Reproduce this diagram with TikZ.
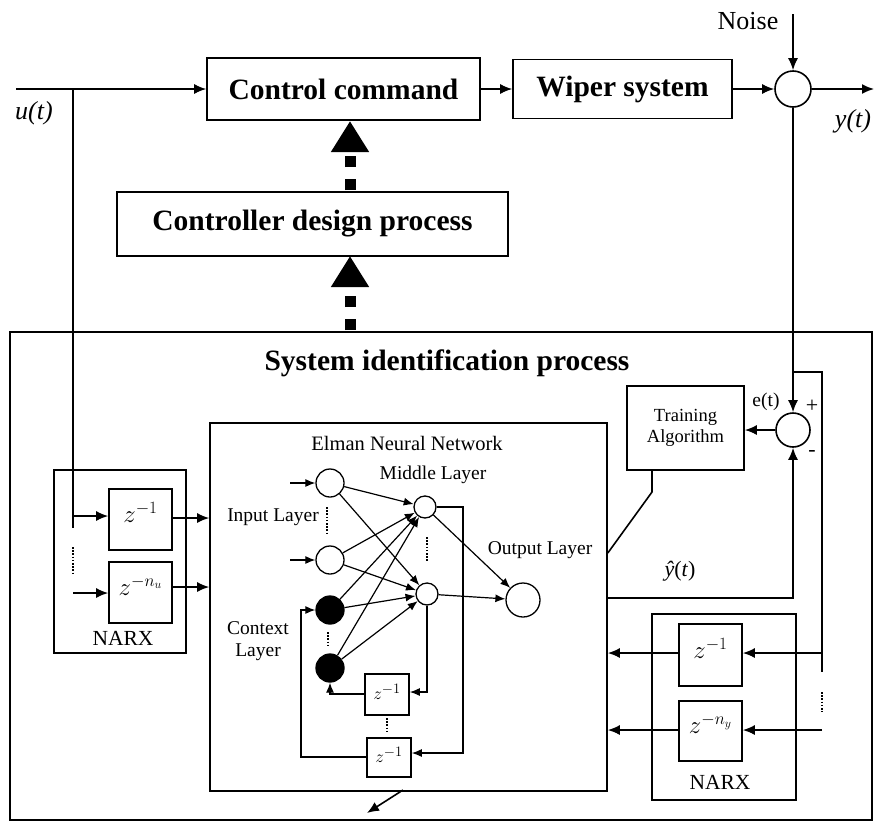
\documentclass[tikz,border=0pt]{standalone}
\usepackage{fontspec}
\setmainfont{Liberation Serif}
\usepackage{amsmath}
\usepackage{tikz}
\usetikzlibrary{arrows.meta,positioning,calc}
\tikzset{
  sys/block/.style={draw, line width=1.6pt, align=center, inner sep=2pt, font=\fontsize{29.5}{32}\selectfont\bfseries},
  sys/box/.style={draw, line width=1.6pt, inner sep=0pt},
  sys/delay/.style={draw, line width=1.6pt, inner sep=0pt, text depth=14pt, font=\fontsize{24}{26}\selectfont},
  sys/sum/.style={draw, circle, line width=1.6pt, inner sep=0pt},
  sys/neuron/.style={draw, circle, line width=1.3pt, inner sep=0pt},
  sys/context/.style={sys/neuron, fill=black},
  sys/line/.style={line width=1.6pt},
  sys/arr/.style={line width=1.6pt, -{Latex[length=12pt,width=10pt]}},
  sys/thinarr/.style={line width=1.2pt, -{Latex[length=10pt,width=8pt]}},
  sys/dots/.style={line width=2.4pt, dash pattern=on 1.6pt off 1.6pt},
  sys/bigarr/.style={line width=11pt, dash pattern=on 0pt off 2pt on 11pt off 12pt on 11pt off 12pt,
    -{Triangle[length=31pt,width=36pt]}},
  sys/label/.style={inner sep=1pt, font=\fontsize{19.5}{22}\selectfont},
  sys/sig/.style={inner sep=1pt, font=\fontsize{26}{28}\selectfont\itshape}
}
\begin{document}
\begin{tikzpicture}[x=1pt, y=-1pt]
  \useasboundingbox (0,0) rectangle (874,822);

  % top loop
  \node[sys/block, minimum width=273, minimum height=62] (ctrl) at (343.5,89) {Control command};
  \node[sys/block, minimum width=219, minimum height=59] (wiper) at (622.5,89) {Wiper system};
  \node[sys/sum, minimum size=36] (sum) at (793,89) {};
  \node[sys/label, font=\fontsize{26}{28}\selectfont] (noise) at (748,21) {Noise};
  \node[sys/sig] (ulbl) at (34,113) {u(t)};
  \node[sys/sig] (ylbl) at (853,121) {y(t)};
  \coordinate (uin) at (16,89);
  \coordinate (ub) at (73,89);
  \coordinate (nz) at (793,14);
  \coordinate (yout) at (874,89);
  \node[sys/block, minimum width=391, minimum height=64] (design) at (312.5,224) {Controller design process};

  % identification
  \node[sys/box, minimum width=862, minimum height=488] (ident) at (441,576) {};
  \node[sys/block, draw=none] (identlbl) at (447,363) {System identification process};
  \node[sys/box, minimum width=117, minimum height=84, font=\fontsize{18.5}{21}\selectfont, align=center] (train) at (685.5,428) {Training\\Algorithm};
  \node[sys/sum, minimum size=34] (err) at (793,430) {};
  \node[sys/label, font=\fontsize{22}{24}\selectfont] (plus) at (812,406) {+};
  \node[sys/label, font=\fontsize{22}{24}\selectfont] (minus) at (812,453) {-};
  \node[sys/label] (elbl) at (766,402) {e(t)};
  \node[sys/label, font=\fontsize{22}{24}\selectfont] (yhat) at (680,571) {\textit{ŷ}(\textit{t})};

  % Elman network
  \node[sys/box, minimum width=397, minimum height=368] (elman) at (408.5,607) {};
  \node[sys/label, font=\fontsize{20.5}{23}\selectfont] (elmanlbl) at (407,443) {Elman Neural Network};
  \node[sys/neuron, minimum size=28] (in1) at (330,483) {};
  \node[sys/neuron, minimum size=28] (in2) at (330,560) {};
  \node[sys/context, minimum size=28] (c1) at (330,610) {};
  \node[sys/context, minimum size=28] (c2) at (330,668) {};
  \node[sys/neuron, minimum size=22] (h1) at (425,507) {};
  \node[sys/neuron, minimum size=22] (h2) at (427,594) {};
  \node[sys/neuron, minimum size=34] (out) at (523,600) {};
  \node[sys/delay, minimum width=44, minimum height=41, text depth=6pt, font=\fontsize{19}{21}\selectfont] (d1) at (387,694.5) {$z^{-1}$};
  \node[sys/delay, minimum width=44, minimum height=39, text depth=6pt, font=\fontsize{19}{21}\selectfont] (d2) at (389,757.5) {$z^{-1}$};
  \node[sys/label] (inlbl) at (273,517) {Input Layer};
  \node[sys/label, align=center] (ctxlbl) at (258,641) {Context\\Layer};
  \node[sys/label] (midlbl) at (433,475) {Middle Layer};
  \node[sys/label] (outlbl) at (540,550) {Output Layer};

  % NARX blocks
  \node[sys/box, minimum width=132, minimum height=183] (narxu) at (120,561.5) {};
  \node[sys/label, font=\fontsize{21.5}{24}\selectfont] (narxulbl) at (123,638) {NARX};
  \node[sys/delay, minimum width=63, minimum height=61] (zu1) at (140.5,519.5) {$z^{-1}$};
  \node[sys/delay, minimum width=63, minimum height=61] (zun) at (140.5,592.5) {$z^{-n_u}$};
  \node[sys/box, minimum width=144, minimum height=186] (narxy) at (724,707) {};
  \node[sys/label, font=\fontsize{21.5}{24}\selectfont] (narxylbl) at (720,782) {NARX};
  \node[sys/delay, minimum width=63, minimum height=62] (zy1) at (710.5,655) {$z^{-1}$};
  \node[sys/delay, minimum width=63, minimum height=60] (zyn) at (710.5,731) {$z^{-n_y}$};

  % connectors
  \draw[sys/arr] (uin) -- (ctrl.west);
  \draw[sys/arr] (ctrl.east) -- (wiper.west);
  \draw[sys/arr] (wiper.east) -- (sum.west);
  \draw[sys/arr] (nz) -- (sum.north);
  \draw[sys/arr] (sum.east) -- (yout);
  \draw[sys/bigarr] (350,192) -- (350,121);
  \draw[sys/bigarr] (350,332) -- (350,256);

  \draw[sys/line] (ub) -- (73,528);
  \draw[sys/arr] (73,516) -- (zu1.west |- 0,516);
  \draw[sys/dots] (73,547) -- (73,575);
  \draw[sys/arr] (73,593) -- (zun.west |- 0,593);
  \draw[sys/arr] (zu1.east |- 0,518) -- (elman.west |- 0,518);
  \draw[sys/arr] (zun.east |- 0,587) -- (elman.west |- 0,587);

  \draw[sys/arr] (sum.south) -- (err.north);
  \draw[sys/line] (793,372) -- (822,372) -- (822,672);
  \draw[sys/dots] (822,692) -- (822,712);
  \draw[sys/arr] (822,653) -- (zy1.east |- 0,653);
  \draw[sys/arr] (822,730) -- (zyn.east |- 0,730);
  \draw[sys/arr] (zy1.west |- 0,653) -- (elman.east |- 0,653);
  \draw[sys/arr] (zyn.west |- 0,730) -- (elman.east |- 0,730);
  \draw[sys/arr] (err.west) -- (train.east |- err.west);
  \draw[sys/line] (train.south -| 652,0) -- (652,492) -- (elman.east |- 0,553);
  \draw[sys/arr] (elman.east |- 0,598) -- (793,598) -- (err.south);
  \draw[sys/arr] (403,790) -- (367,813);

  \draw[sys/thinarr] (290,483) -- (in1.west);
  \draw[sys/thinarr] (290,560) -- (in2.west);
  \draw[sys/dots] (327,507) -- (327,533);
  \draw[sys/dots] (328,632) -- (328,647);
  \draw[sys/dots] (427,537) -- (427,562);
  \draw[sys/dots] (387,718) -- (387,733);
  \foreach \src in {in1,in2,c1,c2}
    \foreach \dst in {h1,h2}
      \draw[sys/thinarr] (\src) -- (\dst);
  \draw[sys/thinarr] (h1) -- (out);
  \draw[sys/thinarr] (h2) -- (out);
  \draw[sys/thinarr] (h1.east) -- (463,507) -- (463,753) -- (d2.east |- 0,753);
  \draw[sys/thinarr] (h2.south) -- (427,692) -- (d1.east |- 0,692);
  \draw[sys/thinarr] (d1.west |- 0,694) -- (330,694) -- (c2.south);
  \draw[sys/thinarr] (d2.west |- 0,757) -- (301,757) -- (301,610) -- (c1.west);
\end{tikzpicture}
\end{document}
